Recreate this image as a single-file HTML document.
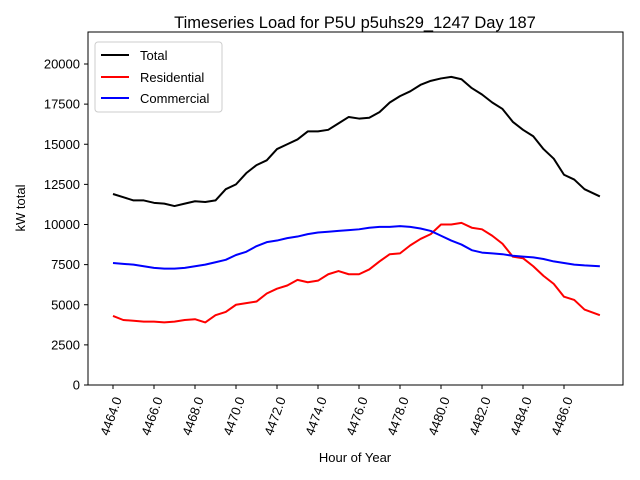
<!DOCTYPE html>
<html><head><meta charset="utf-8"><style>
body{margin:0;background:#fff}
svg{display:block;font-family:"Liberation Sans","DejaVu Sans",sans-serif}
</style></head><body>
<svg id="chart" width="640" height="480">
<rect x="0" y="0" width="640" height="480" fill="#fff"/>
<text x="355" y="28" font-size="16.5" text-anchor="middle">Timeseries Load for P5U p5uhs29_1247  Day 187</text>
<text transform="translate(25,208) rotate(-90)" font-size="13" text-anchor="middle">kW total</text>
<text x="355" y="462" font-size="13" text-anchor="middle">Hour of Year</text>
<g id="ticks"></g>
<g id="series"></g>
<rect x="88" y="32" width="535" height="353" fill="none" stroke="#000" stroke-width="1"/>
<g>
<rect x="95" y="42" width="127" height="70" rx="3" fill="#fff" fill-opacity="0.8" stroke="#ccc"/>
<g><line x1="101" y1="55" x2="129" y2="55" stroke="#000" stroke-width="2"/><text x="140" y="60" font-size="13">Total</text></g>
<g><line x1="101" y1="77" x2="129" y2="77" stroke="#f00" stroke-width="2"/><text x="140" y="82" font-size="13">Residential</text></g>
<g><line x1="101" y1="98" x2="129" y2="98" stroke="#00f" stroke-width="2"/><text x="140" y="103" font-size="13">Commercial</text></g>
</g>
</svg>
<script>
const hours = [4464,4464.5,4465,4465.5,4466,4466.5,4467,4467.5,4468,4468.5,4469,4469.5,4470,4470.5,4471,4471.5,4472,4472.5,4473,4473.5,4474,4474.5,4475,4475.5,4476,4476.5,4477,4477.5,4478,4478.5,4479,4479.5,4480,4480.5,4481,4481.5,4482,4482.5,4483,4483.5,4484,4484.5,4485,4485.5,4486,4486.5,4487,4487.75];
const total = [11900,11700,11500,11500,11350,11300,11150,11300,11450,11400,11500,12200,12500,13200,13700,14000,14700,15000,15300,15800,15800,15900,16300,16700,16600,16650,17000,17600,18000,18300,18700,18950,19100,19200,19050,18500,18100,17600,17200,16400,15900,15500,14700,14100,13100,12800,12200,11750];
const residential = [4300,4050,4000,3950,3950,3900,3950,4050,4100,3900,4350,4550,5000,5100,5200,5700,6000,6200,6550,6400,6500,6900,7100,6900,6900,7200,7700,8150,8200,8700,9100,9400,10000,10000,10100,9800,9700,9300,8800,8000,7900,7400,6800,6300,5500,5300,4700,4350];
const commercial = [7600,7550,7500,7400,7300,7250,7250,7300,7400,7500,7650,7800,8100,8300,8650,8900,9000,9150,9250,9400,9500,9550,9600,9650,9700,9800,9850,9850,9900,9850,9750,9600,9300,9000,8750,8400,8250,8200,8150,8050,8000,7950,7850,7700,7600,7500,7450,7400];
const xTicks = [4464,4466,4468,4470,4472,4474,4476,4478,4480,4482,4484,4486];
const yTicks = [0,2500,5000,7500,10000,12500,15000,17500,20000];

const NS="http://www.w3.org/2000/svg";
const xs = h => 113 + (h-4464)*20.5;
const ys = v => 385 - v*0.01605;
const tg=document.getElementById('ticks');
function mk(tag,attrs,parent){const e=document.createElementNS(NS,tag);for(const k in attrs)e.setAttribute(k,attrs[k]);parent.appendChild(e);return e;}
xTicks.forEach(t=>{
  const g=mk('g',{},tg);
  
  
  mk('line',{x1:xs(t),y1:385,x2:xs(t),y2:389,stroke:'#000'},g);
  const tx=mk('text',{transform:`translate(${xs(t)+9},399) rotate(-70)`,'font-size':13,'text-anchor':'end'},g);
  tx.textContent=t.toFixed(1);
});
yTicks.forEach(t=>{
  const g=mk('g',{},tg);
  
  
  mk('line',{x1:84,y1:ys(t),x2:88,y2:ys(t),stroke:'#000'},g);
  const tx=mk('text',{x:80,y:ys(t)+4.5,'font-size':13,'text-anchor':'end'},g);
  tx.textContent=t;
});
const sg=document.getElementById('series');
[[total,'#000','total-line'],[residential,'#f00','residential-line'],[commercial,'#00f','commercial-line']].forEach(([d,c,n])=>{
  const p=mk('polyline',{points:d.map((v,i)=>xs(hours[i])+','+ys(v)).join(' '),fill:'none',stroke:c,'stroke-width':2,'stroke-linejoin':'round'},sg);
  
  
});
</script>
</body></html>
